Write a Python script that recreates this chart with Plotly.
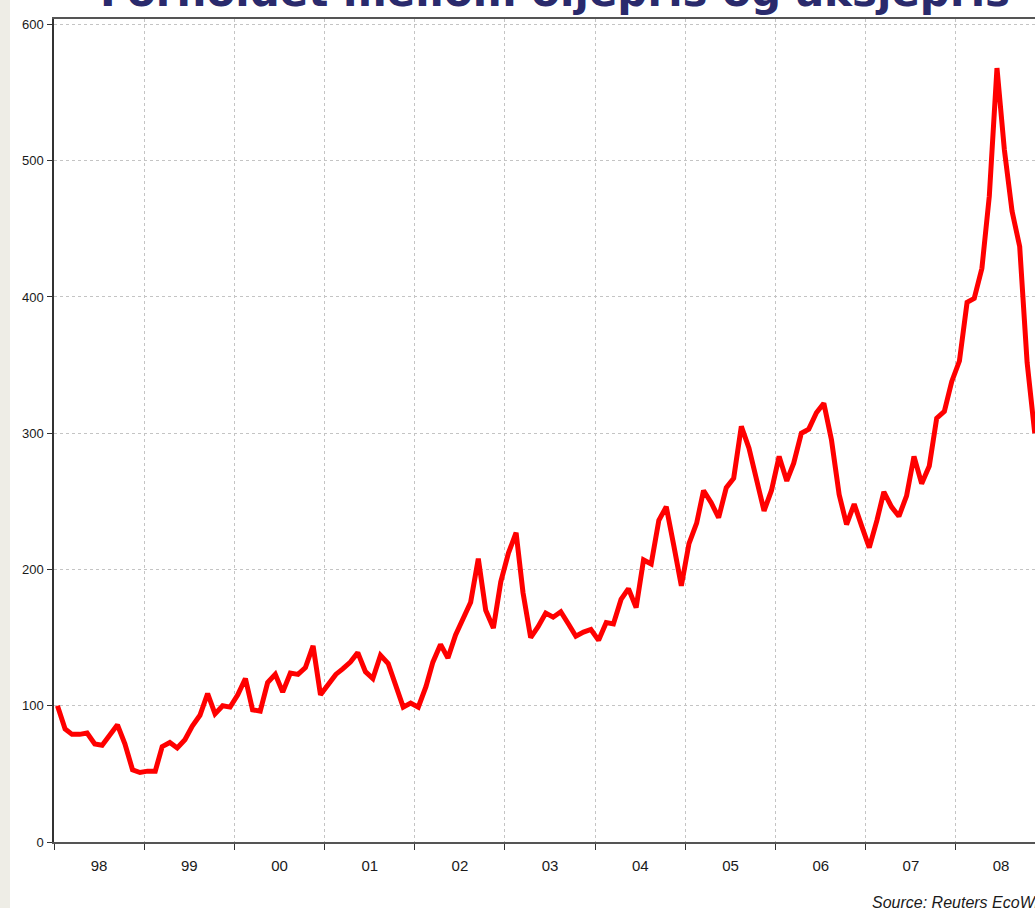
import plotly.graph_objects as go
import pandas as pd

# Monthly values, Jan 1998 .. Nov 2008
v1998 = [100, 83, 79, 79, 80, 72, 71, 78, 86, 72, 53, 51]
v1999 = [52, 52, 70, 73, 69, 75, 85, 93, 109, 94, 100, 99]
v2000 = [108, 120, 97, 96, 117, 123, 110, 124, 123, 128, 144, 108]
v2001 = [115, 123, 127, 132, 139, 125, 120, 137, 131, 114, 99, 102]
v2002 = [99, 114, 132, 145, 135, 152, 164, 176, 208, 170, 157, 191]
v2003 = [212, 227, 183, 150, 158, 168, 165, 169, 160, 151, 154, 156]
v2004 = [148, 161, 160, 178, 186, 172, 207, 204, 236, 246, 217, 188]
v2005 = [219, 234, 258, 249, 238, 260, 267, 305, 289, 267, 243, 258]
v2006 = [283, 265, 278, 300, 303, 315, 322, 295, 255, 233, 248, 232]
v2007 = [216, 236, 257, 246, 239, 254, 283, 263, 276, 311, 316, 338]
v2008 = [353, 396, 399, 421, 474, 568, 508, 463, 437, 352, 300]

values = v1998 + v1999 + v2000 + v2001 + v2002 + v2003 + v2004 + v2005 + v2006 + v2007 + v2008
dates = pd.date_range("1998-01-01", periods=len(values), freq="MS") + pd.Timedelta(days=14)

title_text = "Forholdet mellom oljepris og aksjepris"
source_text = "Source: Reuters EcoWin"
y_ticks = [0, 100, 200, 300, 400, 500, 600]

W, H = 1035, 908
L, R, T, B = 54, 0, 19, 66
pw = W - L - R
ph = H - T - B

fig = go.Figure()
fig.add_trace(go.Scatter(
    x=dates, y=values, mode="lines",
    line=dict(color="#FF0000", width=5),
    hoverinfo="skip", showlegend=False,
))

fig.update_layout(
    width=W, height=H,
    margin=dict(l=L, r=R, t=T, b=B, pad=0),
    paper_bgcolor="white", plot_bgcolor="white",
    font=dict(family="Liberation Sans, Arial, sans-serif", size=13, color="#1a1a1a"),
    xaxis=dict(
        type="date",
        range=["1998-01-01", "2008-11-16"],
        dtick="M12", tick0="1998-01-01",
        tickformat="%y", ticklabelmode="period",
        ticks="outside", ticklen=6, tickcolor="#333", tickwidth=1,
        showline=True, linecolor="#555", linewidth=1.5, mirror=True,
        showgrid=True, gridcolor="#c4c4c4", griddash="3px,3px", gridwidth=1,
        zeroline=False, ticklabelstandoff=3,
        tickfont=dict(size=15, color="#1a1a1a"),
    ),
    yaxis=dict(
        range=[0, 604],
        tickvals=y_ticks,
        ticks="outside", ticklen=5, tickcolor="#333", tickwidth=1,
        showline=True, linecolor="#333", linewidth=1.5,
        showgrid=True, gridcolor="#c4c4c4", griddash="3px,3px", gridwidth=1,
        zeroline=False, ticklabelstandoff=1,
        tickfont=dict(size=13, color="#1a1a1a"),
    ),
    shapes=[
        dict(type="rect", xref="paper", yref="paper",
             x0=-L / pw, x1=(10 - L) / pw, y0=-B / ph, y1=1 + T / ph,
             fillcolor="#EEEDE6", line=dict(width=0), layer="below"),
    ],
    annotations=[
        dict(text=f"<b>{title_text}</b>", xref="paper", yref="paper",
             x=(555 - L) / pw, y=1, xanchor="center", yanchor="bottom",
             yshift=1, showarrow=False,
             font=dict(family="DejaVu Sans, Verdana, sans-serif", size=42, color="#2A2A6C")),
        dict(text=f"<i>{source_text}</i>", xref="paper", yref="paper",
             x=(870 - L) / pw, y=-(902 - 842) / ph, xanchor="left", yanchor="middle",
             showarrow=False,
             font=dict(family="Liberation Sans, Arial, sans-serif", size=16, color="#1a1a1a")),
    ],
)

fig.write_html(
    "out.html",
    config={"displayModeBar": False},
    post_script="document.body.style.margin='0';document.body.style.overflow='hidden';",
)
